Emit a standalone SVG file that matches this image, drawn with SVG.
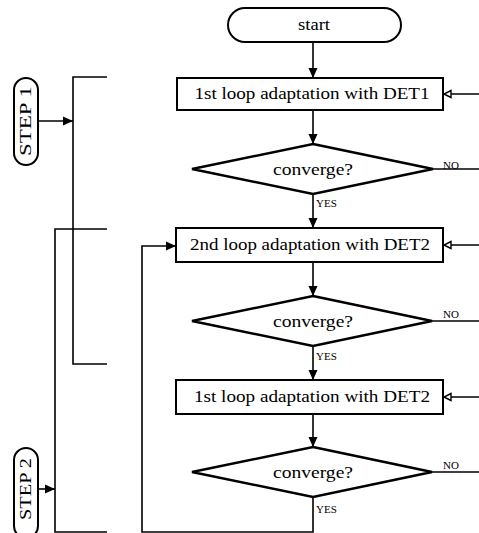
<svg xmlns="http://www.w3.org/2000/svg" width="479" height="533" viewBox="0 0 479 533">
<style>
.box{fill:#fff;stroke:#000;stroke-width:2}
.dia{fill:#fff;stroke:#000;stroke-width:2.5}
.ln{fill:none;stroke:#000;stroke-width:1.6}
.t{font-family:"Liberation Serif","Times New Roman",serif;font-size:16px;fill:#000;text-anchor:middle}
.s{font-family:"Liberation Serif","Times New Roman",serif;font-size:11px;fill:#000}
</style>
<defs>
<marker id="fa" markerUnits="userSpaceOnUse" markerWidth="10" markerHeight="10" viewBox="0 0 10 10" refX="10" refY="5" orient="auto">
<path d="M0,0.5 L10,5 L0,9.5 z" fill="#000"/>
</marker>
<marker id="oa" markerUnits="userSpaceOnUse" markerWidth="10" markerHeight="10" viewBox="0 0 10 10" refX="9" refY="5" orient="auto">
<path d="M9,5 L2,1.5 L2,8.5 z" fill="#fff" stroke="#000" stroke-width="1.4"/>
</marker>
</defs>
<g id="connectors">
<line class="ln" x1="313" y1="42" x2="313" y2="78" marker-end="url(#fa)"/>
<line class="ln" x1="313" y1="110" x2="313" y2="144" marker-end="url(#fa)"/>
<line class="ln" x1="313" y1="194" x2="313" y2="228" marker-end="url(#fa)"/>
<line class="ln" x1="313" y1="262" x2="313" y2="296" marker-end="url(#fa)"/>
<line class="ln" x1="313" y1="346" x2="313" y2="380" marker-end="url(#fa)"/>
<line class="ln" x1="313" y1="414" x2="313" y2="447" marker-end="url(#fa)"/>
<path class="ln" d="M313,497 V532 H142 V246 H176" marker-end="url(#fa)"/>
<line class="ln" x1="479" y1="94" x2="444" y2="94" marker-end="url(#oa)"/>
<line class="ln" x1="479" y1="245" x2="444" y2="245" marker-end="url(#oa)"/>
<line class="ln" x1="479" y1="397" x2="444" y2="397" marker-end="url(#oa)"/>
<line class="ln" x1="433" y1="169" x2="479" y2="169"/>
<line class="ln" x1="432" y1="321" x2="479" y2="321"/>
<line class="ln" x1="432" y1="472" x2="479" y2="472"/>
<text class="s" x="443" y="169">NO</text>
<text class="s" x="443" y="318">NO</text>
<text class="s" x="443" y="469">NO</text>
<text class="s" x="316" y="207">YES</text>
<text class="s" x="316" y="360">YES</text>
<text class="s" x="316" y="513">YES</text>
<path class="ln" d="M107,77 H73 V364 H107"/>
<path class="ln" d="M107,229 H55 V532 H107"/>
<line class="ln" x1="38" y1="121" x2="73" y2="121" marker-end="url(#fa)"/>
<line class="ln" x1="38" y1="489" x2="55" y2="489" marker-end="url(#fa)"/>
</g>
<g id="start">
<rect class="box" x="228" y="8" width="173" height="34" rx="17" ry="17"/>
<text class="t" x="314" y="30" textLength="32" lengthAdjust="spacingAndGlyphs">start</text>
</g>
<g id="box1">
<rect class="box" x="177" y="78" width="266" height="32"/>
<text class="t" x="312" y="99" textLength="235" lengthAdjust="spacingAndGlyphs">1st loop adaptation with DET1</text>
</g>
<g id="dia1">
<polygon class="dia" points="313,144 433,169 313,194 192,169"/>
<text class="t" x="313" y="175" textLength="80" lengthAdjust="spacingAndGlyphs">converge?</text>
</g>
<g id="box2">
<rect class="box" x="176" y="228" width="267" height="34"/>
<text class="t" x="310" y="250" textLength="240" lengthAdjust="spacingAndGlyphs">2nd loop adaptation with DET2</text>
</g>
<g id="dia2">
<polygon class="dia" points="313,296 432,321 313,346 192,321"/>
<text class="t" x="313" y="327" textLength="80" lengthAdjust="spacingAndGlyphs">converge?</text>
</g>
<g id="box3">
<rect class="box" x="176" y="380" width="267" height="34"/>
<text class="t" x="312" y="402" textLength="236" lengthAdjust="spacingAndGlyphs">1st loop adaptation with DET2</text>
</g>
<g id="dia3">
<polygon class="dia" points="313,447 432,472 313,497 192,472"/>
<text class="t" x="313" y="478" textLength="80" lengthAdjust="spacingAndGlyphs">converge?</text>
</g>
<g id="step1">
<rect class="box" x="14" y="78" width="24" height="87" rx="12" ry="12" stroke-width="1.6"/>
<text class="t" transform="translate(31,121) rotate(-90)" x="0" y="0" textLength="70" lengthAdjust="spacingAndGlyphs">STEP 1</text>
</g>
<g id="step2">
<rect class="box" x="14" y="448" width="24" height="90" rx="12" ry="12" stroke-width="1.6"/>
<text class="t" transform="translate(31,489) rotate(-90)" x="0" y="0" textLength="62" lengthAdjust="spacingAndGlyphs">STEP 2</text>
</g>
</svg>
